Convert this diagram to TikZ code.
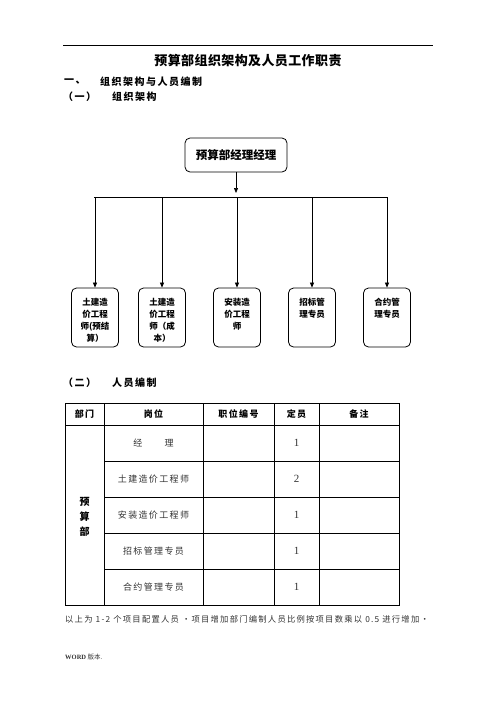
\documentclass[tikz,border=0pt]{standalone}
\usepackage{fontspec}
\setmainfont{Noto Sans CJK SC}
\newfontfamily\cjkwide[LetterSpace=15]{Noto Sans CJK SC}
\newfontfamily\cjktitle[LetterSpace=3]{Noto Sans CJK SC}
\newfontfamily\numfont{Liberation Serif}
\usetikzlibrary{arrows.meta}
\definecolor{rowgray}{HTML}{333333}

\begin{document}
\begin{tikzpicture}[x=1pt,y=-1pt,
  box/.style={draw,line width=0.8pt,rounded corners=5pt},
  mgrbox/.style={box,minimum width=102pt,minimum height=34pt,inner sep=0pt,font=\fontsize{11.5}{13}\selectfont\bfseries},
  staffbox/.style={box,minimum width=47pt,minimum height=59pt,inner sep=0pt},
  stafftext/.style={anchor=north,align=center,inner sep=0pt,font=\fontsize{8.5}{12}\selectfont\bfseries},
  link/.style={line width=0.7pt,-{Triangle[length=5pt,width=4pt]}},
  sect/.style={anchor=west,inner sep=0pt,font=\cjkwide\fontsize{10}{12}\selectfont\bfseries},
  head/.style={inner sep=0pt,font=\cjkwide\fontsize{9}{11}\selectfont\bfseries},
  cell/.style={inner sep=0pt,text=rowgray,font=\cjkwide\fontsize{9}{11}\selectfont},
  num/.style={inner sep=0pt,text=rowgray,font=\numfont\fontsize{11}{12}\selectfont},
  grid/.style={line width=0.8pt}]
  \useasboundingbox (0,0) rectangle (496,702);

  % page head
  \draw[line width=0.6pt] (63,45) -- (433,45);
  \node[inner sep=0pt,font=\cjktitle\fontsize{13}{15}\selectfont\bfseries] (title) at (248,61) {预算部组织架构及人员工作职责};
  \node[sect] (s1) at (64,82) {一、};
  \node[sect] (s1t) at (100,82) {组织架构与人员编制};
  \node[sect] (s11) at (63,97) {（一）};
  \node[sect] (s11t) at (112,97) {组织架构};

  % org chart
  \node[mgrbox] (mgr) at (236,155) {预算部经理经理};
  \coordinate (hub) at (236,193);
  \draw[link] (mgr.south) -- (hub);
  \coordinate (barL) at (94,197);
  \coordinate (barR) at (387,197);
  \draw[line width=0.7pt] (barL) -- (barR);
  \foreach \n/\x/\t in {b1/95/{土建造\\价工程\\师(预结\\算）},
                        b2/162/{土建造\\价工程\\师（成\\本）},
                        b3/237/{安装造\\价工程\\师},
                        b4/312/{招标管\\理专员},
                        b5/387/{合约管\\理专员}}{
    \node[staffbox] (\n) at (\x,317.5) {};
    \node[stafftext,yshift=-10pt] (\n t) at (\n.north) {\t};
    \draw[link] (\n.north |- barL) -- (\n.north);
  }

  % staffing table
  \node[sect] (s12) at (63,383) {（二）};
  \node[sect] (s12t) at (112,383) {人员编制};
  \draw[grid] (65,403) rectangle (399,605);
  \draw[grid] (65,425) -- (399,425);
  \foreach \y in {461,497,533,569} \draw[grid] (104,\y) -- (399,\y);
  \foreach \x in {104,203,274,319} \draw[grid] (\x,403) -- (\x,605);
  \foreach \n/\x/\t in {h1/84.5/部门, h2/153.5/岗位, h3/238.5/职位编号, h4/296.5/定员, h5/359/备注}
    \node[head] (\n) at (\x,414) {\t};
  \node[head,align=center,font=\fontsize{10}{15}\selectfont\bfseries] (dept) at (84.5,517) {预\\算\\部};
  \foreach \n/\y/\r/\k in {r1/443/{经　　理}/1, r2/479/土建造价工程师/2, r3/515/安装造价工程师/1,
                           r4/551/招标管理专员/1, r5/587/合约管理专员/1}{
    \node[cell] (\n) at (153.5,\y) {\r};
    \node[num] (\n k) at (296.5,\y) {\k};
  }

  % notes
  \node[cell,anchor=west,font=\cjkwide\fontsize{8.3}{10}\selectfont] (note) at (65,619) {以上为 1-2 个项目配置人员 ·项目增加部门编制人员比例按项目数乘以 0.5 进行增加·};
  \node[anchor=west,inner sep=0pt,text=rowgray,font=\fontsize{6.5}{8}\selectfont] (foot) at (65,657) {{\numfont\bfseries WORD} 版本.};
\end{tikzpicture}
\end{document}
